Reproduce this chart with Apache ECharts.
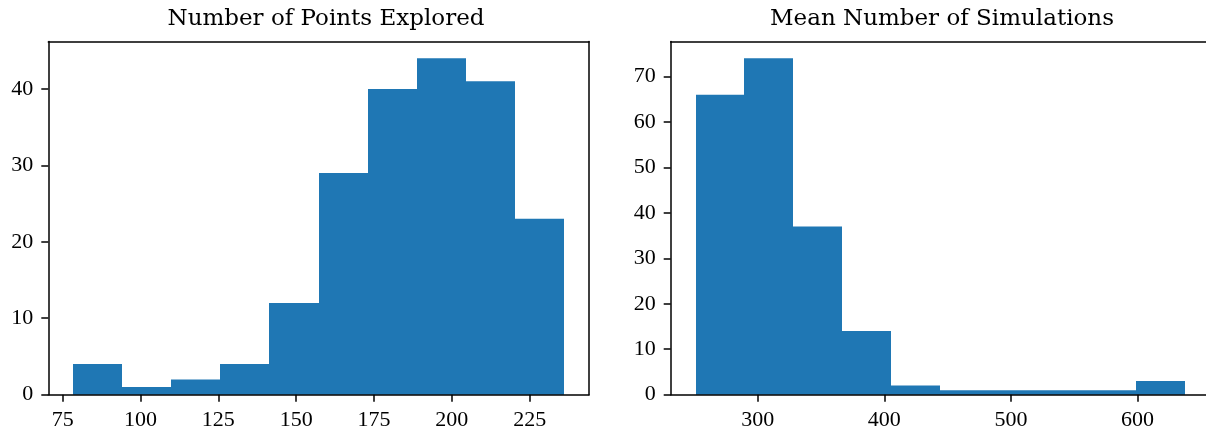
<!DOCTYPE html>
<html>
<head>
<meta charset="utf-8">
<script src="https://cdn.jsdelivr.net/npm/echarts@6/dist/echarts.min.js"></script>
<style>html,body{margin:0;padding:0;background:#fff}#c{width:1206px;height:433px}</style>
</head>
<body>
<div id="c"></div>
<script>
// Left histogram: Number of Points Explored
const leftTitle = "Number of Points Explored";
const leftEdges = [78.26, 94.05, 109.84, 125.63, 141.42, 157.21, 173.0, 188.79, 204.58, 220.37, 236.16];
const leftCounts = [4, 1, 2, 4, 12, 29, 40, 44, 41, 23];
const leftXTicks = [75, 100, 125, 150, 175, 200, 225];
const leftYTicks = [0, 10, 20, 30, 40];

// Right histogram: Mean Number of Simulations
const rightTitle = "Mean Number of Simulations";
const rightEdges = [250.8, 289.51, 328.22, 366.93, 405.64, 444.35, 483.06, 521.77, 560.48, 599.19, 637.9];
const rightCounts = [66, 74, 37, 14, 2, 1, 1, 1, 1, 3];
const rightXTicks = [300, 400, 500, 600];
const rightYTicks = [0, 10, 20, 30, 40, 50, 60, 70];

const TICKFONT = "Liberation Serif";
const TITLEFONT = "DejaVu Serif";
const BAR = "#1f77b4";

function binData(edges, counts) {
  return counts.map((c, i) => [edges[i], edges[i + 1], c]);
}
function renderBin(params, api) {
  const p0 = api.coord([api.value(0), api.value(2)]);
  const p1 = api.coord([api.value(1), 0]);
  const x0 = Math.round(p0[0]), x1 = Math.round(p1[0]);
  return {
    type: 'rect',
    shape: { x: x0, y: p0[1], width: x1 - x0, height: p1[1] - p0[1] },
    style: { fill: BAR }
  };
}
function xAxis(idx, min, max, ticks) {
  return {
    type: 'value', gridIndex: idx, min: min, max: max, z: 5,
    splitLine: { show: false },
    axisLine: { show: true, onZero: false, lineStyle: { color: '#000', width: 1.5 } },
    axisTick: { show: true, inside: false, length: 7, customValues: ticks, lineStyle: { color: '#000', width: 1.5 } },
    axisLabel: { customValues: ticks, margin: 15, color: '#000', fontFamily: TICKFONT, fontSize: 22 }
  };
}
function topAxis(idx, min, max) {
  return {
    type: 'value', gridIndex: idx, min: min, max: max, position: 'top', z: 5,
    splitLine: { show: false },
    axisLine: { show: true, onZero: false, lineStyle: { color: '#000', width: 1.5 } },
    axisTick: { show: false }, axisLabel: { show: false }
  };
}
function yAxis(idx, max, ticks) {
  return {
    type: 'value', gridIndex: idx, min: 0, max: max, z: 5,
    splitLine: { show: false },
    axisLine: { show: true, onZero: false, lineStyle: { color: '#000', width: 1.5 } },
    axisTick: { show: true, inside: false, length: 7, customValues: ticks, lineStyle: { color: '#000', width: 1.5 } },
    axisLabel: { customValues: ticks, margin: 15, color: '#000', fontFamily: TICKFONT, fontSize: 22 }
  };
}
function rightAxis(idx, max) {
  return {
    type: 'value', gridIndex: idx, min: 0, max: max, position: 'right', z: 5,
    splitLine: { show: false },
    axisLine: { show: true, onZero: false, lineStyle: { color: '#000', width: 1.5 } },
    axisTick: { show: false }, axisLabel: { show: false }
  };
}

const chart = echarts.init(document.getElementById('c'), null, { renderer: 'canvas' });
chart.setOption({
  animation: false,
  backgroundColor: '#fff',
  title: [
    { text: leftTitle, left: 321, top: 3, textAlign: 'center',
      textStyle: { fontFamily: TITLEFONT, fontWeight: 'normal', fontSize: 23, color: '#000' } },
    { text: rightTitle, left: 937, top: 3, textAlign: 'center',
      textStyle: { fontFamily: TITLEFONT, fontWeight: 'normal', fontSize: 23, color: '#000' } }
  ],
  grid: [
    { left: 48.3, top: 41.5, width: 540.7, height: 353.2, containLabel: false, outerBoundsMode: 'none' },
    { left: 670.7, top: 41.5, width: 539.4, height: 353.2, containLabel: false, outerBoundsMode: 'none' }
  ],
  xAxis: [
    xAxis(0, 70.37, 244.05, leftXTicks),
    xAxis(1, 231.2, 657.4, rightXTicks),
    topAxis(0, 70.37, 244.05),
    topAxis(1, 231.2, 657.4)
  ],
  yAxis: [
    yAxis(0, 46.2, leftYTicks),
    yAxis(1, 77.7, rightYTicks),
    rightAxis(0, 46.2),
    rightAxis(1, 77.7)
  ],
  series: [
    { type: 'custom', xAxisIndex: 0, yAxisIndex: 0, z: 1, renderItem: renderBin,
      encode: { x: [0, 1], y: 2 }, data: binData(leftEdges, leftCounts) },
    { type: 'custom', xAxisIndex: 1, yAxisIndex: 1, z: 1, renderItem: renderBin,
      encode: { x: [0, 1], y: 2 }, data: binData(rightEdges, rightCounts) }
  ]
});
</script>
</body>
</html>
